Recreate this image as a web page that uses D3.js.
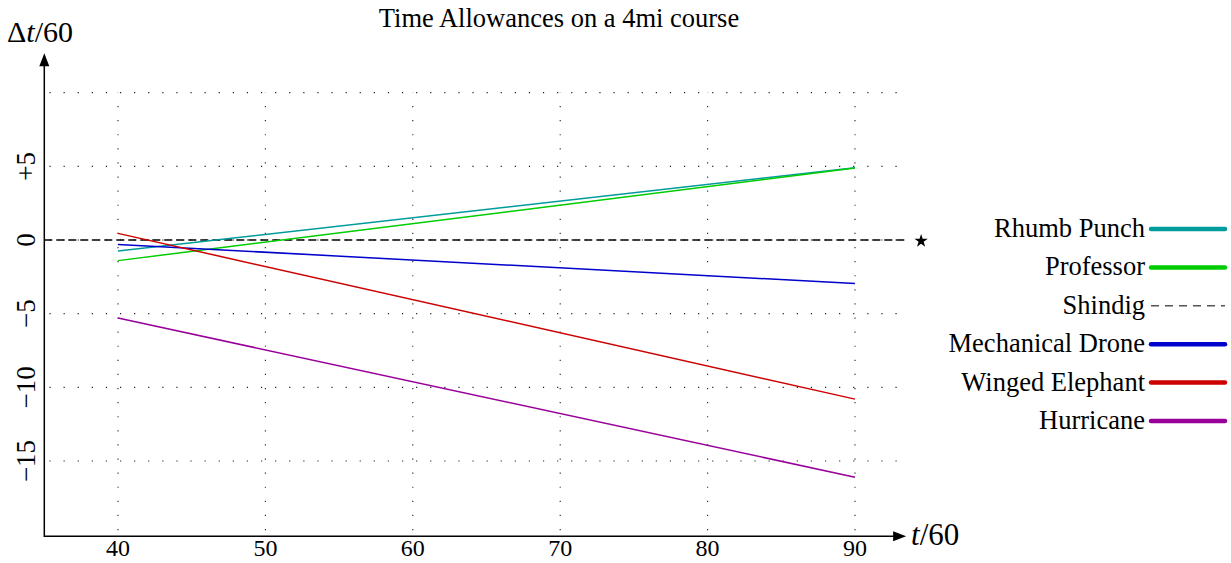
<!DOCTYPE html>
<html>
<head>
<meta charset="utf-8">
<script src="https://cdn.jsdelivr.net/npm/d3@7"></script>
<style>
  body { margin: 0; background: #fff; }
  svg { display: block; }
  text { font-family: "Liberation Serif", "Times New Roman", serif; fill: #000; }
</style>
</head>
<body>
<svg id="chart" width="1231" height="563"></svg>
<script>
// ---- data ----
const times = [40, 90];
const seriesNames = ["Rhumb Punch", "Professor", "Shindig", "Mechanical Drone", "Winged Elephant", "Hurricane"];
const rhumbPunch = [-0.75, 4.9];
const professor = [-1.4, 4.88];
const shindig = [0, 0];
const mechanicalDrone = [-0.3, -2.95];
const wingedElephant = [0.45, -10.8];
const hurricane = [-5.3, -16.1];
const xTicks = [40, 50, 60, 70, 80, 90];
const yTicks = [5, 0, -5, -10, -15];
const yTickLabels = ["+5", "0", "\u22125", "\u221210", "\u221215"];
const yGrid = [10, 5, 0, -5, -10, -15];
const xDomain = [35, 93.4];
const yDomain = [-20.1, 12.6];
const title = "Time Allowances on a 4mi course";

// ---- scales ----
const x = d3.scaleLinear().domain([40, 90]).range([118, 855]);
const y = d3.scaleLinear().domain([0, -15]).range([240, 461]);

const svg = d3.select("#chart");

// grid
const gridX0 = x(35.35), gridX1 = x(93.2);
const gridY0 = y(10), gridY1 = y(-20.1);
svg.append("g").selectAll("line").data(yGrid).join("line")
  .attr("x1", gridX0).attr("x2", gridX1)
  .attr("y1", d => y(d)).attr("y2", d => y(d))
  .attr("stroke", "#222").attr("stroke-width", 1.1)
  .attr("stroke-dasharray", "1.2,12.9");
svg.append("g").selectAll("line").data(xTicks).join("line")
  .attr("x1", d => x(d)).attr("x2", d => x(d))
  .attr("y1", gridY1 - 6).attr("y2", gridY0)
  .attr("stroke", "#222").attr("stroke-width", 1.1)
  .attr("stroke-dasharray", "1.2,12.9");

// series
const series = [
  { name: "Rhumb Punch", values: rhumbPunch, color: "#009b9b" },
  { name: "Professor", values: professor, color: "#00cc00" },
  { name: "Mechanical Drone", values: mechanicalDrone, color: "#0000cc" },
  { name: "Winged Elephant", values: wingedElephant, color: "#cc0000" },
  { name: "Hurricane", values: hurricane, color: "#990099" }
];
const line = d3.line().x(d => x(d[0])).y(d => y(d[1]));

// Shindig reference dashed line across the full axis
svg.append("path")
  .attr("d", line([[xDomain[0], shindig[0]], [xDomain[1], shindig[1]]]))
  .attr("fill", "none").attr("stroke", "#000").attr("stroke-width", 1.4)
  .attr("stroke-dasharray", "8,4");
svg.append("path")
  .attr("d", d3.symbol(d3.symbolStar, 55)())
  .attr("transform", `translate(${x(xDomain[1]) + 16},${y(0) + 1})`)
  .attr("fill", "#000");

svg.append("g").selectAll("path").data(series).join("path")
  .attr("d", s => line(times.map((t, i) => [t, s.values[i]])))
  .attr("fill", "none").attr("stroke", s => s.color).attr("stroke-width", 1.5);

// axes
const ax0 = x(xDomain[0]);
const axY = y(yDomain[0]);
svg.append("line").attr("x1", ax0).attr("x2", x(xDomain[1]) - 10)
  .attr("y1", axY).attr("y2", axY).attr("stroke", "#000").attr("stroke-width", 1.5);
svg.append("path")
  .attr("d", `M${x(xDomain[1]) + 1},${axY} L${x(xDomain[1]) - 12},${axY - 5} L${x(xDomain[1]) - 12},${axY + 5} Z`)
  .attr("fill", "#000");
svg.append("line").attr("x1", ax0).attr("x2", ax0)
  .attr("y1", axY + 0.75).attr("y2", y(yDomain[1]) + 10).attr("stroke", "#000").attr("stroke-width", 1.5);
svg.append("path")
  .attr("d", `M${ax0},${y(yDomain[1]) - 1} L${ax0 - 5},${y(yDomain[1]) + 12} L${ax0 + 5},${y(yDomain[1]) + 12} Z`)
  .attr("fill", "#000");

// tick labels
svg.append("g").selectAll("text").data(xTicks).join("text")
  .attr("x", d => x(d)).attr("y", 556)
  .attr("text-anchor", "middle").style("font-size", "24px")
  .text(d => d);
svg.append("g").selectAll("text").data(yTicks).join("text")
  .attr("transform", d => `translate(35,${y(d)}) rotate(-90)`)
  .attr("text-anchor", "middle").style("font-size", "27px")
  .text((d, i) => yTickLabels[i]);

// axis labels
const yl = svg.append("text").attr("x", 7).attr("y", 42).style("font-size", "30px");
yl.append("tspan").text("\u0394");
yl.append("tspan").style("font-style", "italic").text("t");
yl.append("tspan").text("/60");
const xl = svg.append("text").attr("x", 911).attr("y", 545).style("font-size", "31px");
xl.append("tspan").style("font-style", "italic").text("t");
xl.append("tspan").text("/60");

// title
svg.append("text").attr("x", 559).attr("y", 27).attr("text-anchor", "middle")
  .style("font-size", "26.5px").text(title);

// legend
const legendItems = seriesNames.map(n => {
  const s = series.find(q => q.name === n);
  return { name: n, color: s ? s.color : "#555", dashed: !s };
});
const lg = svg.append("g");
const rowY = d3.scaleLinear().domain([0, 5]).range([229, 421]);
legendItems.forEach((it, i) => {
  const yy = rowY(i);
  lg.append("text").attr("x", 1145).attr("y", yy + 8).attr("text-anchor", "end")
    .style("font-size", "26.5px").text(it.name);
  lg.append("line").attr("x1", 1151).attr("x2", 1225).attr("y1", yy).attr("y2", yy)
    .attr("stroke", it.color)
    .attr("stroke-width", it.dashed ? 1.6 : 4.5)
    .attr("stroke-linecap", it.dashed ? "butt" : "round")
    .attr("stroke-dasharray", it.dashed ? "8,6" : null);
});
</script>
</body>
</html>
